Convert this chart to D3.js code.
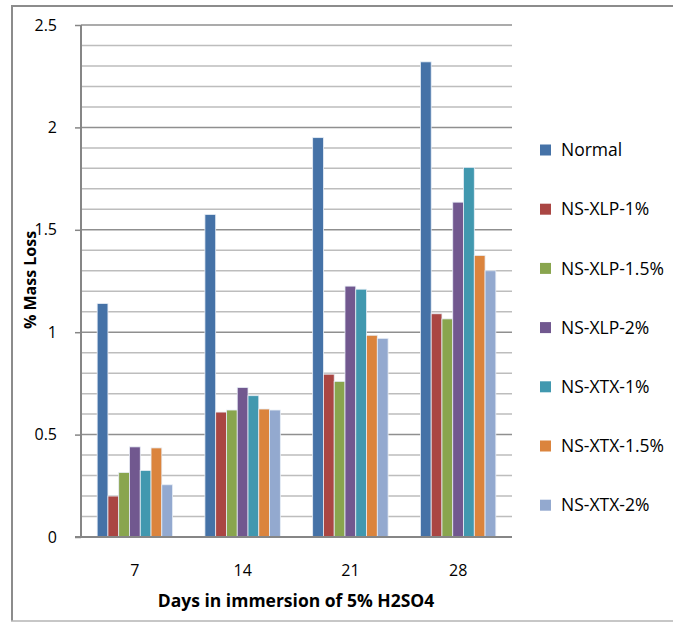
<!DOCTYPE html>
<html>
<head>
<meta charset="utf-8">
<script src="https://cdn.jsdelivr.net/npm/d3@7"></script>
<style>
  body { margin: 0; background: #fff; }
  svg text { font-family: "Open Sans", sans-serif; fill: #000; }
</style>
</head>
<body>
<div id="chart"></div>
<script>
var days = ['7', '14', '21', '28'];
var seriesNames = ['Normal', 'NS-XLP-1%', 'NS-XLP-1.5%', 'NS-XLP-2%', 'NS-XTX-1%', 'NS-XTX-1.5%', 'NS-XTX-2%'];
var normal   = [1.14, 1.575, 1.95, 2.32];
var xlp1     = [0.2, 0.61, 0.795, 1.09];
var xlp15    = [0.315, 0.62, 0.76, 1.065];
var xlp2     = [0.44, 0.73, 1.225, 1.635];
var xtx1     = [0.325, 0.69, 1.21, 1.805];
var xtx15    = [0.435, 0.625, 0.985, 1.375];
var xtx2     = [0.255, 0.62, 0.97, 1.30];
var yTicks = [0, 0.5, 1, 1.5, 2, 2.5];

var allSeries = [normal, xlp1, xlp15, xlp2, xtx1, xtx15, xtx2];
var colors = ['#4572A7', '#AA4643', '#89A54E', '#71588F', '#4198AF', '#DB843D', '#93A9CF'];

var width = 673, height = 622;

var svg = d3.select('#chart')
    .append('svg')
    .attr('width', width)
    .attr('height', height);

// outer frame (left, top, bottom)
svg.append('line').attr('x1', 12).attr('x2', 12).attr('y1', 5).attr('y2', 621)
    .attr('stroke', '#8c8c8c').attr('stroke-width', 2);
svg.append('line').attr('x1', 11).attr('x2', 673).attr('y1', 6).attr('y2', 6)
    .attr('stroke', '#8c8c8c').attr('stroke-width', 2);
svg.append('line').attr('x1', 11).attr('x2', 673).attr('y1', 621).attr('y2', 621)
    .attr('stroke', '#b4b4b4').attr('stroke-width', 1.5);

var plotL = 81, plotR = 512, plotT = 25, plotB = 537;

var x0 = d3.scaleBand().domain(days).range([plotL, plotR]).paddingInner(0.3).paddingOuter(0.15);
var x1 = d3.scaleBand().domain(seriesNames).range([0, x0.bandwidth()]);
var y = d3.scaleLinear().domain([0, 2.5]).range([plotB, plotT]);

// gridlines every 0.1
var minor = d3.range(1, 25).map(d => d / 10);
svg.append('g').selectAll('line').data(minor).enter().append('line')
    .attr('x1', plotL).attr('x2', plotR)
    .attr('y1', d => y(d)).attr('y2', d => y(d))
    .attr('stroke', d => (Math.round(d * 10) % 5 === 0) ? '#8f8f8f' : '#bdbdbd')
    .attr('stroke-width', 1.5);
svg.append('line').attr('x1', plotL).attr('x2', plotR).attr('y1', y(2.5)).attr('y2', y(2.5))
    .attr('stroke', '#8f8f8f').attr('stroke-width', 1.5);

// bars
var groups = svg.append('g').selectAll('g').data(days).enter().append('g')
    .attr('transform', d => `translate(${x0(d)},0)`);

groups.selectAll('rect')
    .data((d, i) => seriesNames.map((s, j) => ({ s: s, v: allSeries[j][i], c: colors[j] })))
    .enter().append('rect')
    .attr('x', d => x1(d.s))
    .attr('width', x1.bandwidth())
    .attr('y', d => y(d.v))
    .attr('height', d => plotB - y(d.v))
    .attr('fill', d => d.c)
    .attr('stroke', '#e8eef6')
    .attr('stroke-width', 0.8);

// y axis
var yAxis = svg.append('g').attr('transform', `translate(${plotL},0)`)
    .call(d3.axisLeft(y).tickValues(yTicks).tickSize(6).tickPadding(18).tickFormat(d3.format('')));
yAxis.selectAll('line').attr('stroke', '#868686').attr('stroke-width', 1.5);
yAxis.select('.domain').attr('stroke', '#868686').attr('stroke-width', 2).attr('d', `M0,${plotT}V${plotB}`);
yAxis.selectAll('text').style('font-size', '16px').attr('fill', '#000');

// x axis
var xAxis = svg.append('g').attr('transform', `translate(0,${plotB})`)
    .call(d3.axisBottom(x0).tickSize(0).tickPadding(28));
xAxis.select('.domain').attr('stroke', '#868686').attr('stroke-width', 2).attr('d', `M${plotL - 6},0H${plotR}`);
xAxis.selectAll('text').style('font-size', '16px').attr('fill', '#000');

// axis titles
svg.append('text')
    .attr('x', 296)
    .attr('y', 607)
    .attr('text-anchor', 'middle')
    .style('font-size', '17.5px')
    .style('font-weight', 'bold')
    .text('Days in immersion of 5% H2SO4');

svg.append('text')
    .attr('transform', 'translate(36,280)rotate(-90)')
    .attr('text-anchor', 'middle')
    .style('font-size', '16px')
    .style('font-weight', 'bold')
    .text('% Mass Loss');

// legend
var legend = svg.append('g').selectAll('g').data(seriesNames).enter().append('g')
    .attr('transform', (d, i) => `translate(540,${150 + i * 59.2})`);
legend.append('rect')
    .attr('x', 0).attr('y', -5.5).attr('width', 11).attr('height', 11)
    .attr('fill', (d, i) => colors[i]);
legend.append('text')
    .attr('x', 21).attr('y', 0).attr('dy', '0.35em')
    .style('font-size', '17.5px')
    .text(d => d);
</script>
</body>
</html>
